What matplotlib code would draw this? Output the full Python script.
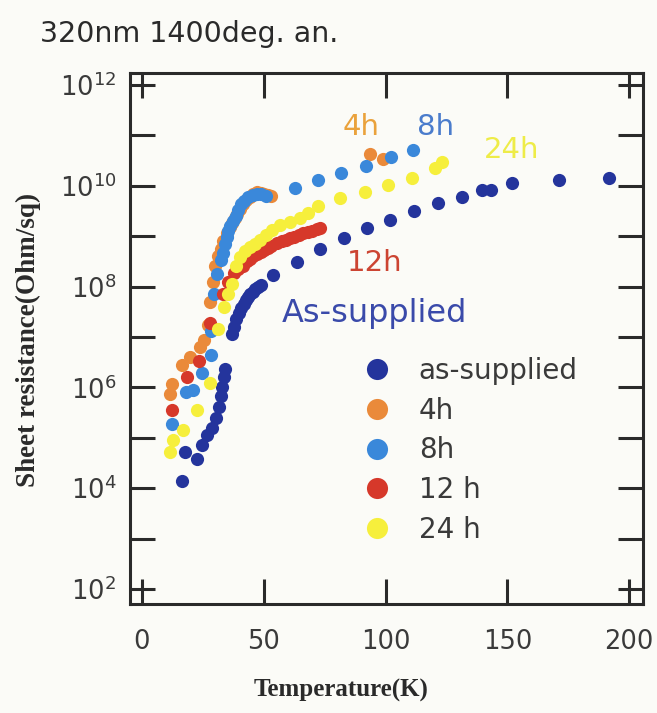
import matplotlib
matplotlib.use("Agg")
import matplotlib.pyplot as plt
import numpy as np

# temperature (K) and log10 of sheet resistance (Ohm/sq)
t_as = [16.4, 17.6, 22.4, 24.5, 26.6, 28.7, 30.2, 31.6, 32.3, 33.0, 33.7, 34.3,
        36.9, 37.8, 38.7, 39.8, 40.8, 41.7, 42.6, 43.6, 44.5, 45.5, 46.5, 47.5,
        48.7, 53.8, 63.8, 73.3, 82.9, 92.5, 101.7, 111.6, 121.5, 131.5, 139.6,
        143.3, 152.1, 171.1, 191.6]
r_as = [4.15, 4.71, 4.58, 4.86, 5.05, 5.20, 5.40, 5.61, 5.82, 6.01, 6.21, 6.36,
        7.05, 7.20, 7.36, 7.48, 7.57, 7.66, 7.74, 7.80, 7.86, 7.90, 7.96, 8.00,
        8.04, 8.24, 8.48, 8.74, 8.96, 9.16, 9.33, 9.50, 9.66, 9.77, 9.91,
        9.91, 10.05, 10.12, 10.16]

t_4h = [11.5, 12.3, 16.3, 19.7, 23.8, 25.6, 27.0, 28.0, 29.0, 30.0, 31.3, 32.4,
        33.3, 34.8, 36.0, 37.0, 38.2, 39.2, 40.3, 41.4, 42.8, 44.3, 45.8, 47.3,
        48.8, 50.2, 51.7, 53.1, 93.6, 99.1]
r_4h = [5.86, 6.06, 6.45, 6.60, 6.80, 6.95, 7.24, 7.70, 8.10, 8.40, 8.60, 8.75,
        8.90, 9.06, 9.18, 9.27, 9.37, 9.45, 9.55, 9.63, 9.71, 9.77, 9.83, 9.87,
        9.86, 9.84, 9.82, 9.80, 10.64, 10.54]

t_8h = [12.2, 18.0, 20.8, 24.5, 28.3, 28.3, 29.5, 31.0, 32.6, 33.3, 34.0, 34.8,
        35.5, 36.3, 37.4, 38.5, 39.6, 40.7, 42.1, 43.6, 45.4, 47.3, 49.0, 50.9,
        62.8, 72.4, 81.9, 92.1, 102.4, 111.4]
r_8h = [5.27, 5.90, 5.95, 6.29, 6.65, 7.11, 7.86, 8.25, 8.53, 8.67, 8.85, 8.99,
        9.10, 9.20, 9.31, 9.41, 9.52, 9.63, 9.70, 9.77, 9.81, 9.84, 9.83, 9.80,
        9.95, 10.11, 10.25, 10.40, 10.58, 10.71]

t_12h = [12.5, 18.5, 23.3, 28.0, 33.4, 35.5, 37.7, 39.5, 41.4, 43.0, 44.3, 45.8,
         47.3, 48.8, 50.2, 51.7, 53.1, 55.3, 57.5, 59.0, 60.8, 62.6, 64.4, 66.2,
         68.0, 70.0, 71.7, 72.9]
r_12h = [5.55, 6.20, 6.52, 7.28, 7.85, 8.10, 8.28, 8.35, 8.40, 8.50, 8.55, 8.60,
         8.65, 8.68, 8.72, 8.77, 8.81, 8.86, 8.90, 8.93, 8.96, 8.99, 9.03, 9.06,
         9.09, 9.11, 9.14, 9.16]

t_24h = [11.5, 12.8, 17.0, 22.4, 28.0, 31.3, 33.5, 35.2, 37.0, 38.7, 40.2, 42.3,
         44.4, 46.5, 48.5, 51.0, 53.3, 56.7, 60.7, 64.9, 68.3, 72.3, 81.4, 91.6,
         101.2, 110.8, 120.3, 123.3]
r_24h = [4.72, 4.95, 5.16, 5.56, 6.09, 7.15, 7.60, 7.85, 8.05, 8.40, 8.58, 8.70,
         8.78, 8.85, 8.92, 9.02, 9.12, 9.22, 9.29, 9.36, 9.46, 9.60, 9.75, 9.88,
         10.02, 10.16, 10.35, 10.48]

labels = ["as-supplied", "4h", "8h", "12 h", "24 h"]
colors = ["#24349c", "#ea8a3a", "#3a88da", "#d6382a", "#f6ef3c"]
series = [(t_as, r_as), (t_4h, r_4h), (t_8h, r_8h), (t_12h, r_12h), (t_24h, r_24h)]

fig = plt.figure(figsize=(6.57, 7.13), dpi=100, facecolor="#fbfbf7")
ax = fig.add_axes([130 / 657, 1 - 604 / 713, 513 / 657, 531 / 713])
ax.set_facecolor("#fbfbf7")

for (t, r), c, lab in zip(series, colors, labels):
    ax.plot(t, 10.0 ** np.array(r), "o", color=c, ms=9.5, mew=0, label=lab)

ax.set_yscale("log")
ax.set_xlim(-4.9, 205.7)
ax.set_ylim(10 ** 1.70, 10 ** 12.24)
ax.set_xticks([0, 50, 100, 150, 200])
decades = np.arange(2, 13)
ax.set_yticks(10.0 ** decades)
ax.set_yticklabels([r"$10^{%d}$" % d if d % 2 == 0 else "" for d in decades])
ax.yaxis.set_minor_locator(matplotlib.ticker.NullLocator())
ax.tick_params(direction="in", length=18, width=2.2, top=True, right=True,
               labelsize=18.5, labelcolor="#3a3a3a", color="#2a2a2a")
ax.tick_params(axis="y", pad=10)
ax.tick_params(axis="x", pad=18)
for s in ax.spines.values():
    s.set_linewidth(2.2)
    s.set_color("#2a2a2a")

# curve labels
ax.text(90, 10 ** 11.17, "4h", color="#eaa23c", fontsize=21, ha="center", va="center")
ax.text(120.7, 10 ** 11.17, "8h", color="#4a7ccc", fontsize=21, ha="center", va="center")
ax.text(151.6, 10 ** 10.71, "24h", color="#eeec48", fontsize=21, ha="center", va="center")
ax.text(95.5, 10 ** 8.46, "12h", color="#cc4432", fontsize=21, ha="center", va="center")
ax.text(95.6, 10 ** 7.46, "As-supplied", color="#3a4aaa", fontsize=23, ha="center", va="center")

leg = ax.legend(loc="upper left", bbox_to_anchor=(366 / 657, 1 - 357 / 713),
                bbox_transform=fig.transFigure, frameon=False, fontsize=20,
                markerscale=1.6, handlelength=0.8, handletextpad=1.1,
                labelspacing=0.42, borderpad=0, borderaxespad=0)
for txt in leg.get_texts():
    txt.set_color("#3a3a3a")

fig.text(40 / 657, 1 - 34 / 713, "320nm 1400deg. an.", fontsize=20.5,
         color="#2a2a2a", va="center", ha="left")
fig.text(341 / 657, 1 - 690 / 713, "Temperature(K)", fontsize=18,
         family="Liberation Serif", weight="bold", color="#2a2a2a",
         ha="center", va="center")
fig.text(28 / 657, 1 - 340 / 713, "Sheet resistance(Ohm/sq)", fontsize=19.5,
         family="Liberation Serif", weight="bold", color="#2a2a2a",
         ha="center", va="center", rotation=90)

fig.savefig("out.png", dpi=100, facecolor=fig.get_facecolor())
